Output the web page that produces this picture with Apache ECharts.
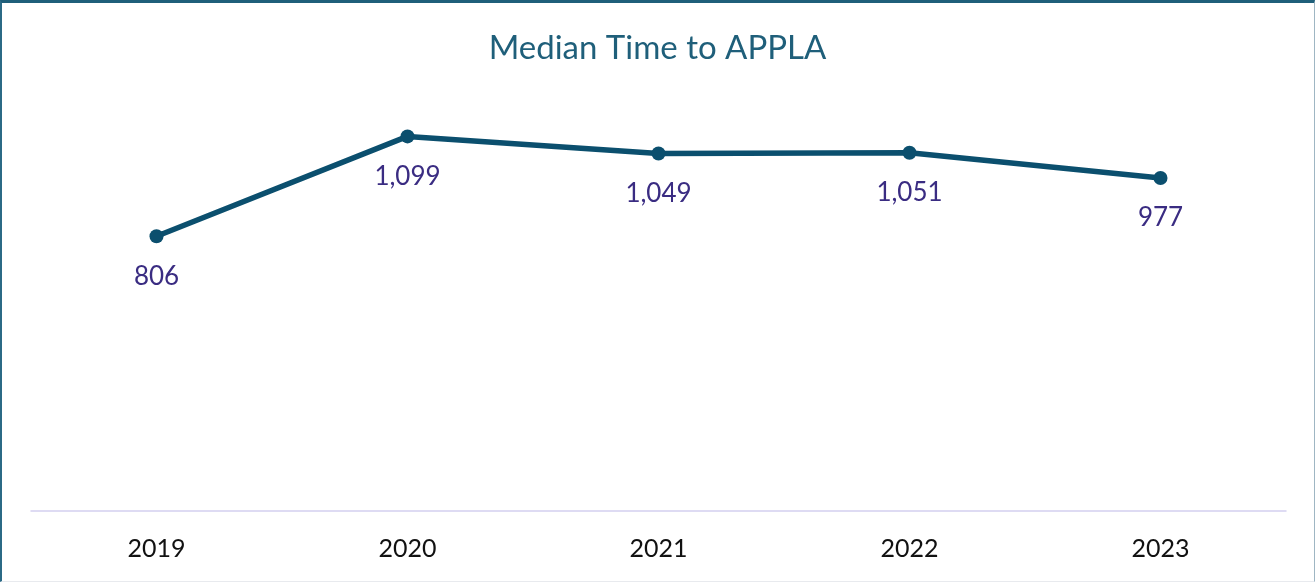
<!DOCTYPE html>
<html>
<head>
<meta charset="utf-8">
<script src="https://cdn.jsdelivr.net/npm/echarts@6/dist/echarts.min.js"></script>
<style>
  html, body { margin: 0; padding: 0; background: #fff; }
  #main { position: absolute; left: 0; top: 0; width: 1315px; height: 582px; }
  .frame {
    position: absolute; left: 0; top: 0; width: 1315px; height: 582px;
    box-sizing: border-box; pointer-events: none;
    border-top: 3px solid #1f5f7a;
    border-left: 2px solid #2b6a86;
    border-right: 1px solid #9fb6c3;
    border-bottom: 1px solid #e8eaee;
  }
</style>
</head>
<body>
<div id="main"></div>
<div class="frame"></div>
<script>
const years = ['2019', '2020', '2021', '2022', '2023']
const medianDays = [806, 1099, 1049, 1051, 977]

const myChart = echarts.init(document.getElementById('main'))
const options = {
  animation: false,
  title: {
    text: 'Median Time to APPLA',
    left: 'center',
    top: 27,
    textStyle: {
      fontFamily: 'Lato',
      fontWeight: 'normal',
      fontSize: 33,
      color: '#1f5f7a'
    }
  },
  grid: {
    left: 31,
    right: 29,
    top: 102,
    bottom: 71
  },
  xAxis: {
    type: 'category',
    data: years,
    boundaryGap: true,
    axisLine: { lineStyle: { color: '#d4d0f0', width: 1.5 } },
    axisTick: { show: false },
    axisLabel: {
      margin: 25,
      fontFamily: 'Lato',
      fontSize: 25,
      color: '#111'
    }
  },
  yAxis: {
    type: 'value',
    min: 0,
    max: 1200,
    show: false,
    splitLine: { show: false }
  },
  series: [{
    type: 'line',
    data: medianDays,
    symbol: 'circle',
    symbolSize: 14,
    lineStyle: { color: '#0b4f6e', width: 5.5 },
    itemStyle: { color: '#0b4f6e' },
    label: {
      show: true,
      position: 'bottom',
      distance: 20,
      fontFamily: 'Lato',
      fontSize: 26,
      color: '#3a2c82',
      formatter: p => p.value.toLocaleString('en-US')
    }
  }]
}
myChart.setOption(options)
</script>
</body>
</html>
